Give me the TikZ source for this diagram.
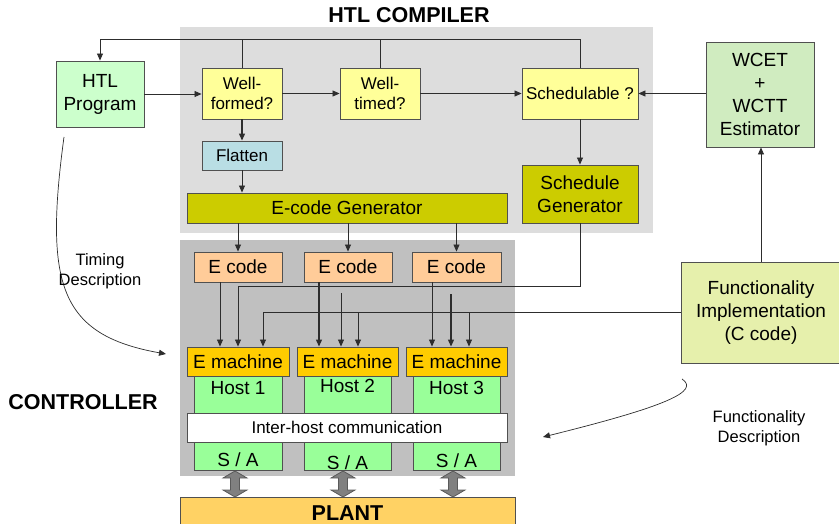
\documentclass[tikz,border=0pt]{standalone}
\usepackage{fontspec}
\setmainfont{Liberation Sans}
\usetikzlibrary{arrows.meta}

\definecolor{compbg}{RGB}{221,221,221}
\definecolor{ctrlbg}{RGB}{192,192,192}
\definecolor{progfill}{RGB}{204,255,204}
\definecolor{checkfill}{RGB}{255,255,153}
\definecolor{flatfill}{RGB}{185,222,228}
\definecolor{genfill}{RGB}{204,204,0}
\definecolor{wcetfill}{RGB}{208,236,192}
\definecolor{funcfill}{RGB}{230,240,172}
\definecolor{ecodefill}{RGB}{255,204,153}
\definecolor{emfill}{RGB}{255,204,0}
\definecolor{hostfill}{RGB}{153,255,153}
\definecolor{plantfill}{RGB}{255,210,100}
\definecolor{edge}{RGB}{80,80,80}
\definecolor{wire}{RGB}{45,45,45}
\definecolor{dblfill}{RGB}{128,128,128}
\definecolor{dbledge}{RGB}{90,90,90}

\tikzset{
  box/.style={draw=edge, line width=0.9pt, inner sep=0pt, align=center,
              font=\fontsize{19}{23}\selectfont},
  smallbox/.style={box, font=\fontsize{17}{20}\selectfont},
  plain/.style={inner sep=0pt, align=center, font=\fontsize{19}{23}\selectfont},
  caption/.style={inner sep=0pt, align=center, font=\fontsize{16.5}{20}\selectfont},
  heading/.style={inner sep=0pt, font=\bfseries\fontsize{21.5}{25}\selectfont},
  wiring/.style={draw=wire, line width=0.8pt},
  arr/.style={wiring, -{Triangle[length=7pt,width=6pt]}},
  dblarrow/.pic={
    \draw[fill=dblfill, draw=dbledge, line width=0.8pt]
      (0,0) -- (12,7) -- (4.5,7) -- (4.5,19) -- (12,19) -- (0,26)
      -- (-12,19) -- (-4.5,19) -- (-4.5,7) -- (-12,7) -- cycle;
  }
}

\begin{document}
\begin{tikzpicture}[x=1pt,y=-1pt]
\useasboundingbox (0,0) rectangle (839,524);
\clip (0,0) rectangle (839,524);

% background panels
\fill[compbg] (180,27) rectangle (653,233);
\fill[ctrlbg] (180,240) rectangle (515,476);

% headings
\node[heading] (tcomp) at (409,15) {HTL COMPILER};
\node[heading] (tctrl) at (83,402) {CONTROLLER};

% compiler stages
\node[box, fill=progfill, minimum width=88, minimum height=66] (prog) at (100,94) {HTL\\Program};
\node[smallbox, fill=checkfill, minimum width=80, minimum height=51] (wf) at (242,93.5) {Well-\\formed?};
\node[smallbox, fill=checkfill, minimum width=80, minimum height=51] (wt) at (380,93.5) {Well-\\timed?};
\node[smallbox, fill=checkfill, minimum width=116, minimum height=51] (sched) at (580,93.5) {Schedulable ?};
\node[smallbox, fill=flatfill, minimum width=80, minimum height=29] (flat) at (242,155.5) {Flatten};
\node[box, fill=genfill, minimum width=320, minimum height=30] (ecg) at (347,208) {E-code Generator};
\node[box, fill=genfill, minimum width=116, minimum height=58] (sgen) at (580,194) {Schedule\\Generator};
\node[box, fill=wcetfill, minimum width=108, minimum height=105] (wcet) at (760,94.5) {WCET\\+\\WCTT\\Estimator};
\node[box, fill=funcfill, minimum width=160, minimum height=101] (func) at (761,312.5) {Functionality\\Implementation\\(C code)};

% controller: hosts
\node[box, fill=hostfill, minimum width=88, minimum height=100] (host1) at (238,420) {};
\node[box, fill=hostfill, minimum width=87, minimum height=100] (host2) at (347.5,420) {};
\node[box, fill=hostfill, minimum width=87, minimum height=100] (host3) at (456.5,420) {};
\node[plain] (hl1) at (238,388) {Host 1};
\node[plain] (hl2) at (347.5,386) {Host 2};
\node[plain] (hl3) at (456.5,388) {Host 3};
\node[plain] (sa1) at (238,460) {S / A};
\node[plain] (sa2) at (347.5,463) {S / A};
\node[plain] (sa3) at (456.5,461) {S / A};

\node[box, fill=ecodefill, minimum width=88, minimum height=30] (ec1) at (238,267) {E code};
\node[box, fill=ecodefill, minimum width=88, minimum height=30] (ec2) at (348,267) {E code};
\node[box, fill=ecodefill, minimum width=89, minimum height=30] (ec3) at (456.5,267) {E code};

\node[box, fill=emfill, minimum width=102, minimum height=29] (em1) at (238,361.5) {E machine};
\node[box, fill=emfill, minimum width=101, minimum height=29] (em2) at (347.5,361.5) {E machine};
\node[box, fill=emfill, minimum width=101, minimum height=29] (em3) at (456.5,361.5) {E machine};

\node[smallbox, fill=white, minimum width=320, minimum height=29] (ihc) at (347,427.5) {Inter-host communication};

% plant
\node[box, fill=plantfill, minimum width=335, minimum height=40] (plant) at (347.5,517) {};
\node[heading] (plantlab) at (347.5,513) {PLANT};

% sensor/actuator links to the plant
\pic at (235,471) {dblarrow};
\pic at (343,471) {dblarrow};
\pic at (453,471) {dblarrow};

% feedback loop from the checks back to the program
\coordinate (loopR) at (580,39);
\coordinate (loopL) at (100,39);
\draw[arr] (sched.north) -- (loopR) -- (loopL) -- (prog.north);
\draw[wiring] (wf.north) -- (wf.north |- loopL);
\draw[wiring] (wt.north) -- (wt.north |- loopL);

% compiler flow
\draw[arr] (prog.east) -- (prog.east -| wf.west);
\draw[arr] (wf.east) -- (wt.west);
\draw[arr] (wt.east) -- (sched.west);
\draw[arr] (sched.east -| wcet.west) -- (sched.east);
\draw[arr, line width=1.2pt] (wf.south) -- (flat.north);
\draw[arr] (flat.south) -- (flat.south |- ecg.north);
\draw[arr] (sched.south) -- (sgen.north);
\draw[arr] (func.north) -- (func.north |- wcet.south);

% code generator to E code
\draw[arr] (ecg.south -| ec1) -- (ec1.north);
\draw[arr] (ecg.south -| ec2) -- (ec2.north);
\draw[arr] (ecg.south -| ec3) -- (ec3.north);

% E code to E machines
\draw[arr] ([xshift=-18pt]ec1.south) -- ([xshift=-18pt]ec1.south |- em1.north);
\draw[arr, line width=1.2pt] ([xshift=-29pt]ec2.south) -- ([xshift=-29pt]ec2.south |- em2.north);
\draw[arr] ([xshift=-24.5pt]ec3.south) -- ([xshift=-24.5pt]ec3.south |- em3.north);

% schedules to E machines
\coordinate (s1) at (238,286);
\coordinate (s2) at (341,293);
\coordinate (s3) at (451,294);
\draw[arr] (sgen.south) |- (s1) -- (s1 |- em1.north);
\draw[arr] (s2) -- (s2 |- em2.north);
\draw[arr, line width=1.2pt] (s3) -- (s3 |- em3.north);

% functionality code to E machines
\coordinate (f1) at (263,312.5);
\coordinate (f2) at (358,312.5);
\coordinate (f3) at (469,312.5);
\draw[arr] (func.west) -- (f1) -- (f1 |- em1.north);
\draw[arr] (f2) -- (f2 |- em2.north);
\draw[arr] (f3) -- (f3 |- em3.north);

% descriptions
\coordinate (tdA) at (64,137);
\coordinate (tdB) at (166,354);
\draw[arr, line width=0.7pt] (tdA) .. controls (44,285) and (60,335) .. (tdB);
\node[caption] (tdlab) at (100,271) {Timing\\Description};

\coordinate (fdA) at (682,379);
\coordinate (fdB) at (543,437);
\draw[arr, line width=0.7pt] (fdA) .. controls (700,391) and (668,406) .. (fdB);
\node[caption] (fdlab) at (759,428) {Functionality\\Description};
\end{tikzpicture}
\end{document}
